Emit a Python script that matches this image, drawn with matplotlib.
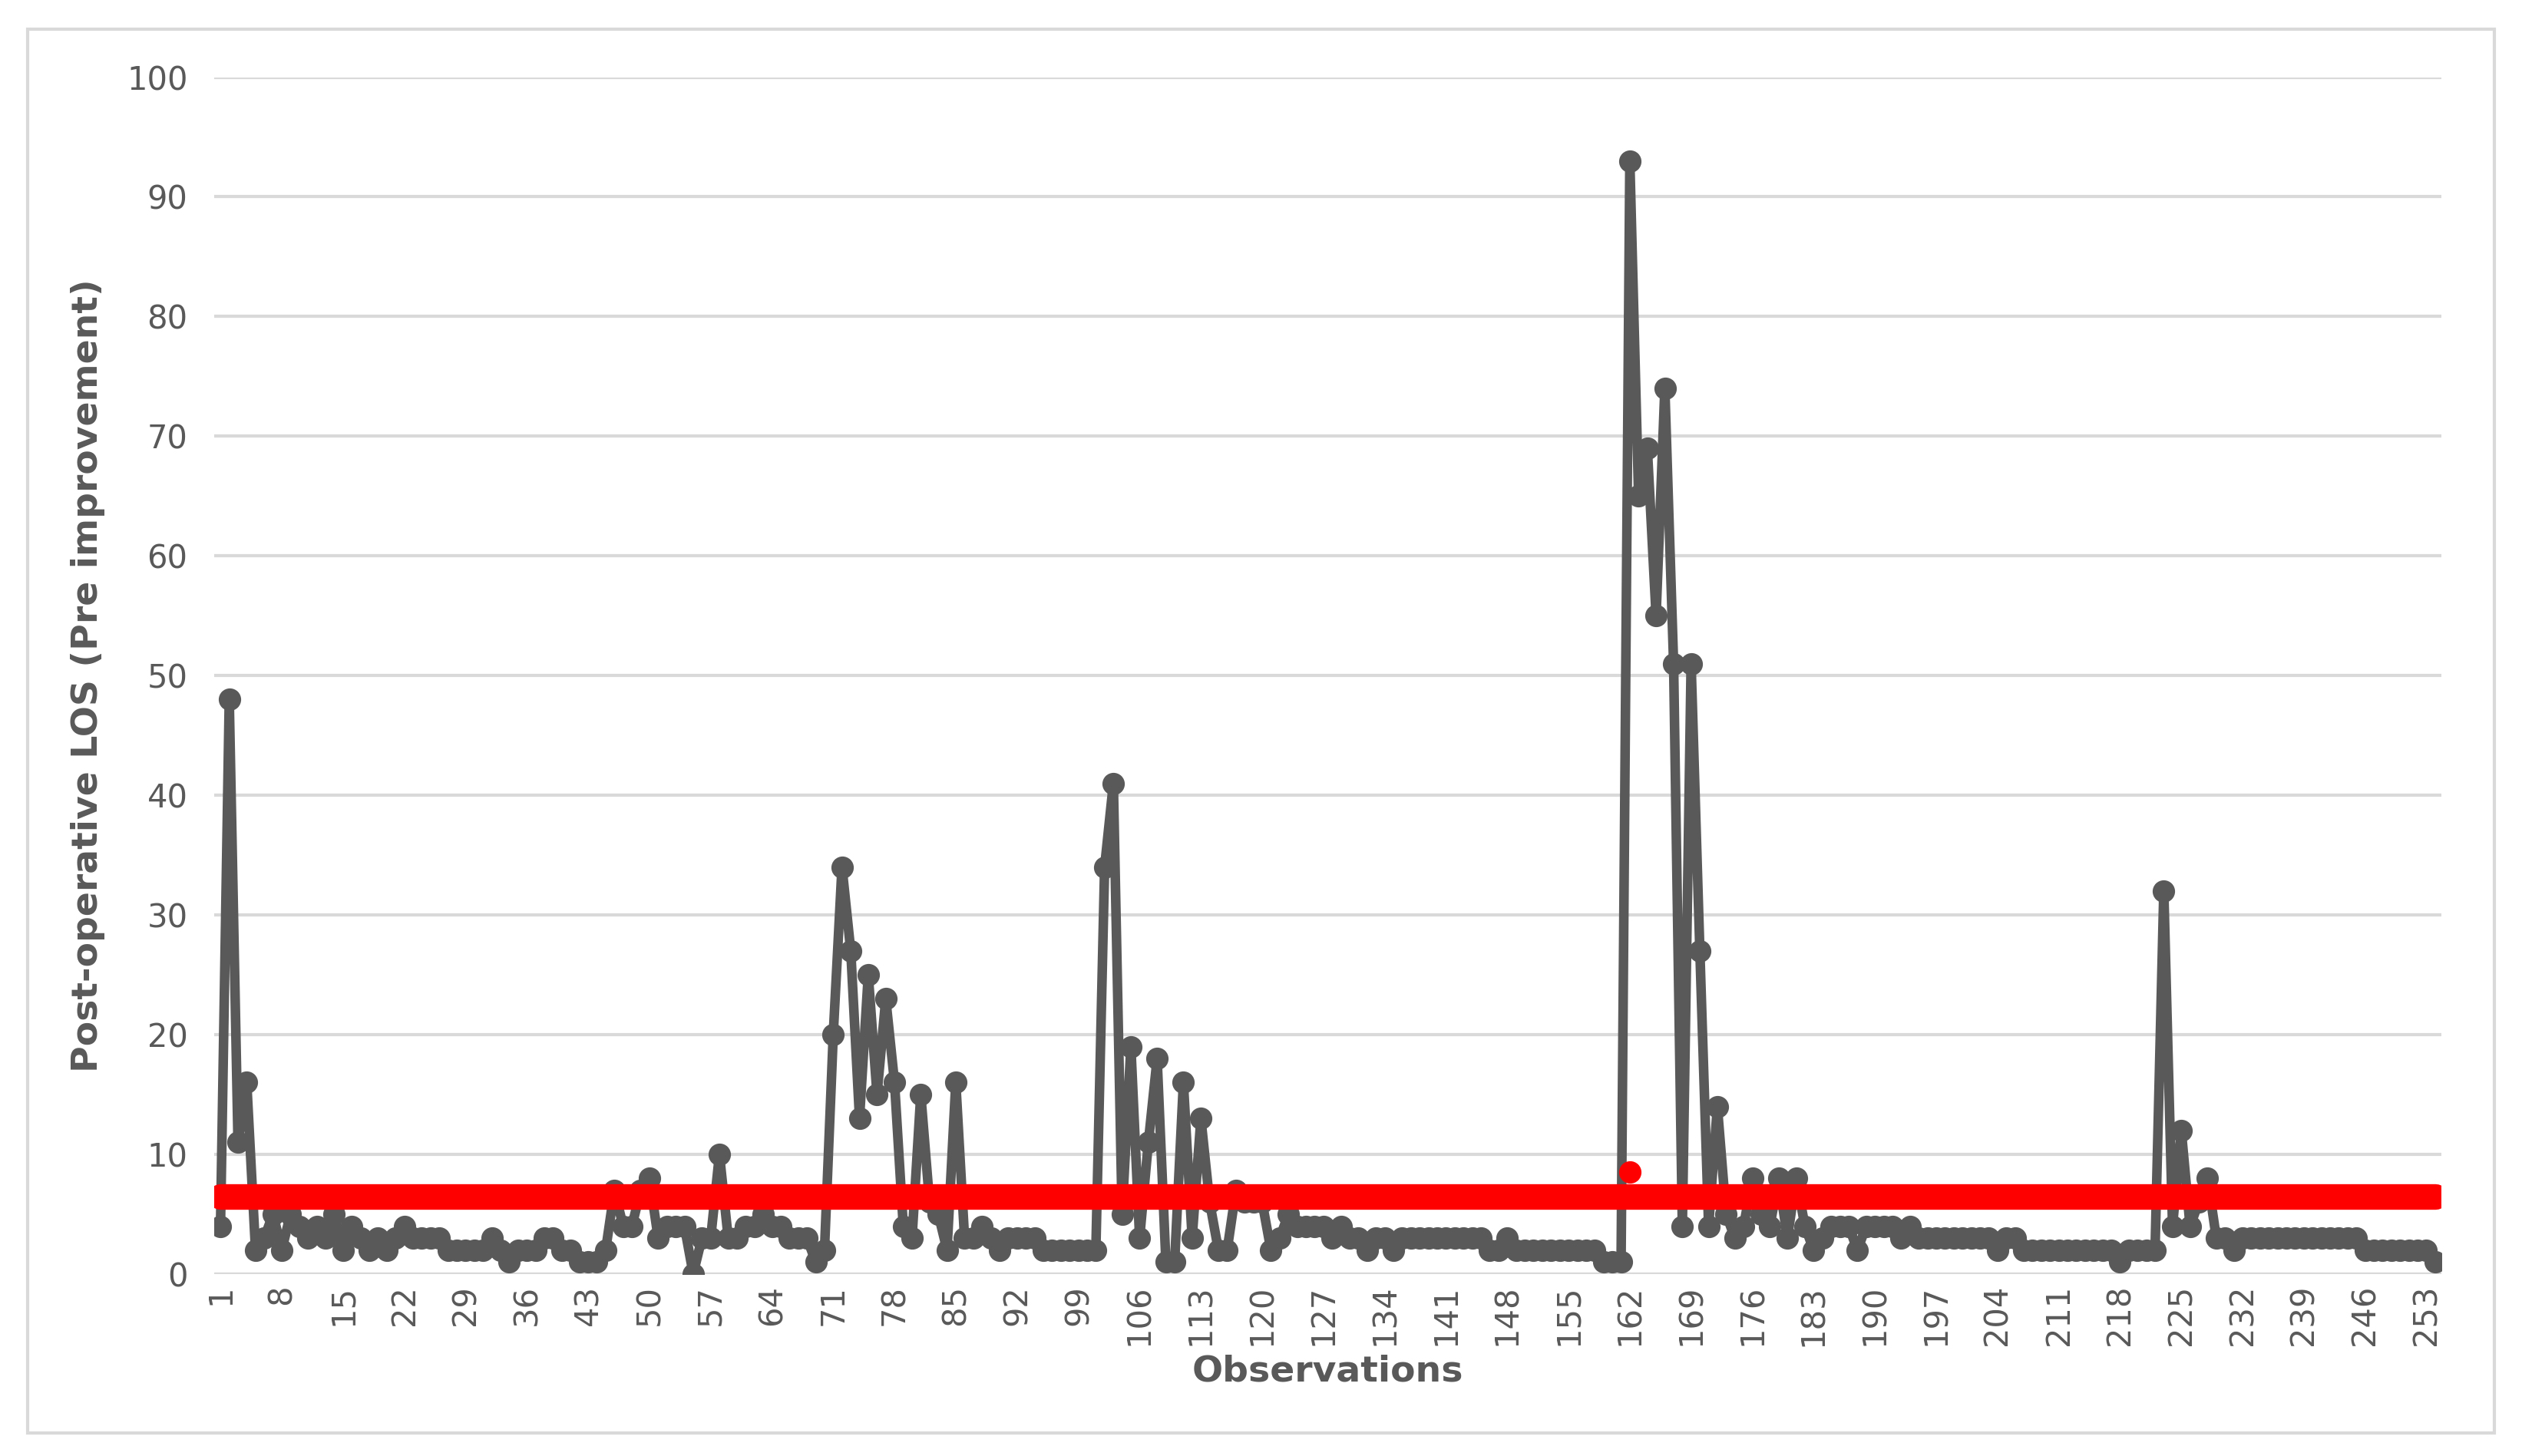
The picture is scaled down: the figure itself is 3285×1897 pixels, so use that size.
import numpy as np
import matplotlib.pyplot as plt
from matplotlib.patches import Rectangle

# post-operative LOS values, observations 1..254
los = [4, 48, 11, 16, 2, 3, 5, 2, 5, 4, 3, 4, 3, 5, 2, 4, 3, 2, 3, 2,
       3, 4, 3, 3, 3, 3, 2, 2, 2, 2, 2, 3, 2, 1, 2, 2, 2, 3, 3, 2,
       2, 1, 1, 1, 2, 7, 4, 4, 7, 8, 3, 4, 4, 4, 0, 3, 3, 10, 3, 3,
       4, 4, 5, 4, 4, 3, 3, 3, 1, 2, 20, 34, 27, 13, 25, 15, 23, 16, 4, 3,
       15, 6, 5, 2, 16, 3, 3, 4, 3, 2, 3, 3, 3, 3, 2, 2, 2, 2, 2, 2,
       2, 34, 41, 5, 19, 3, 11, 18, 1, 1, 16, 3, 13, 6, 2, 2, 7, 6, 6, 6,
       2, 3, 5, 4, 4, 4, 4, 3, 4, 3, 3, 2, 3, 3, 2, 3, 3, 3, 3, 3,
       3, 3, 3, 3, 3, 2, 2, 3, 2, 2, 2, 2, 2, 2, 2, 2, 2, 2, 1, 1,
       1, 93, 65, 69, 55, 74, 51, 4, 51, 27, 4, 14, 5, 3, 4, 8, 5, 4, 8, 3,
       8, 4, 2, 3, 4, 4, 4, 2, 4, 4, 4, 4, 3, 4, 3, 3, 3, 3, 3, 3,
       3, 3, 3, 2, 3, 3, 2, 2, 2, 2, 2, 2, 2, 2, 2, 2, 2, 1, 2, 2,
       2, 2, 32, 4, 12, 4, 6, 8, 3, 3, 2, 3, 3, 3, 3, 3, 3, 3, 3, 3,
       3, 3, 3, 3, 3, 2, 2, 2, 2, 2, 2, 2, 2, 1]
obs = np.arange(1, len(los) + 1)
mean_los = 6.5
red_obs = 162
red_val = 8.5

GRAY = '#595959'
fig = plt.figure(figsize=(32.85, 18.97), dpi=100)
fig.patches.append(Rectangle((0.011, 0.016), 0.978, 0.964, transform=fig.transFigure,
                             fill=False, edgecolor='#d9d9d9', linewidth=3))
ax = fig.add_axes([0.085, 0.125, 0.883, 0.822])

ax.plot(obs, los, color=GRAY, linewidth=9, marker='o', markersize=20,
        solid_joinstyle='round', zorder=3)
ax.plot([obs[0], obs[-1]], [mean_los, mean_los], color='#ff0000', linewidth=24,
        solid_capstyle='round', zorder=4)
ax.plot([red_obs], [red_val], 'o', color='#ff0000', markersize=20, zorder=4)

ax.set_xlim(0.3, 254.7)
ax.set_ylim(0, 100)
ax.set_yticks(range(0, 101, 10))
ax.set_xticks(obs[::7])
ax.tick_params(axis='x', labelrotation=90, length=0, labelsize=30, colors=GRAY, pad=10)
ax.tick_params(axis='y', length=0, labelsize=30, colors=GRAY, pad=25)
ax.grid(axis='y', color='#d9d9d9', linewidth=3)
ax.set_axisbelow(True)
for s in ax.spines.values():
    s.set_visible(False)
ax.axhline(0, color='#d9d9d9', linewidth=3, zorder=1)

ax.set_xlabel('Observations', fontsize=34, fontweight='bold', color=GRAY, labelpad=8)
ax.set_ylabel('Post-operative LOS (Pre improvement)', fontsize=34, fontweight='bold',
              color=GRAY, labelpad=20)

fig.savefig('out.png', dpi=100)
